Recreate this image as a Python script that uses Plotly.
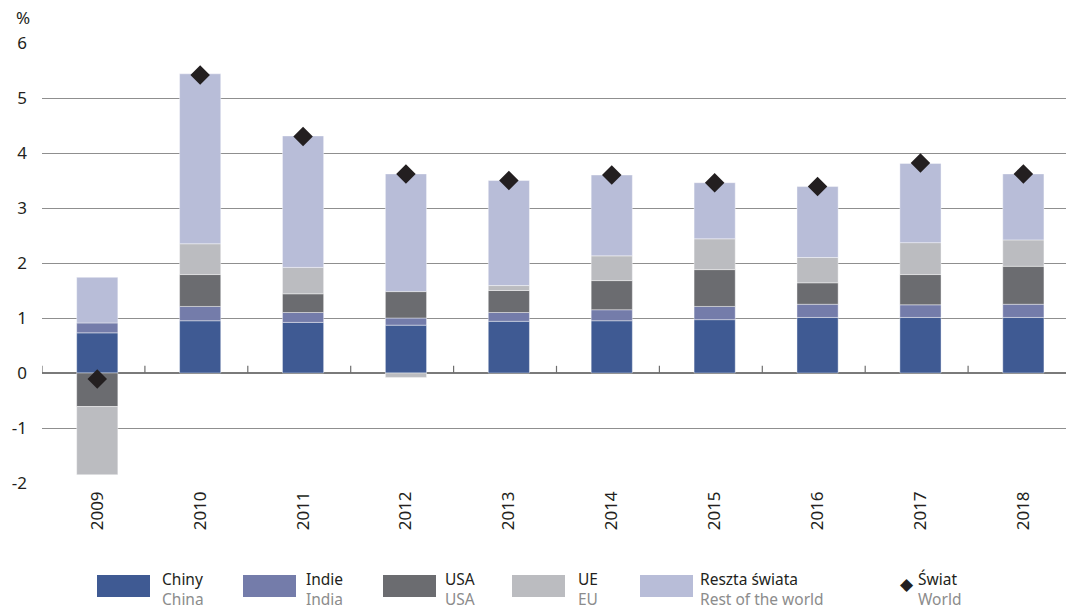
import plotly.graph_objects as go

years = ["2009", "2010", "2011", "2012", "2013", "2014", "2015", "2016", "2017", "2018"]
china = [0.73, 0.95, 0.92, 0.87, 0.94, 0.95, 0.97, 1.01, 1.01, 1.01]
india = [0.18, 0.26, 0.18, 0.13, 0.16, 0.20, 0.24, 0.24, 0.23, 0.24]
usa = [-0.61, 0.58, 0.34, 0.48, 0.40, 0.53, 0.67, 0.39, 0.55, 0.69]
eu = [-1.24, 0.56, 0.48, -0.08, 0.09, 0.45, 0.56, 0.46, 0.58, 0.48]
rest = [0.83, 3.09, 2.39, 2.14, 1.91, 1.47, 1.02, 1.29, 1.44, 1.20]
world = [-0.11, 5.42, 4.30, 3.62, 3.50, 3.60, 3.46, 3.39, 3.82, 3.62]
y_ticks = [-2, -1, 0, 1, 2, 3, 4, 5, 6]
y_labels = ["-2", "-1", "0", "1", "2", "3", "4", "5", "6"]

series = [
    ("Chiny", "China", china, "#3f5a93"),
    ("Indie", "India", india, "#747caa"),
    ("USA", "USA", usa, "#6b6c70"),
    ("UE", "EU", eu, "#bbbcc0"),
    ("Reszta świata", "Rest of the world", rest, "#b8bdd8"),
]

FONT = "Noto Sans"
TXT = "#231f20"
SUB = "#8c8c8c"

fig = go.Figure()
xs = list(range(len(years)))
for pl, en, vals, col in series:
    fig.add_trace(go.Bar(
        x=xs, y=vals, name=pl, marker=dict(color=col, line=dict(color="rgba(255,255,255,0.5)", width=0.8)),
        showlegend=False,
    ))
fig.add_trace(go.Scatter(
    x=xs, y=world, mode="markers", name="Świat",
    marker=dict(symbol="diamond", size=15, color=TXT), showlegend=False,
))

# plot geometry (pixels)
W, H = 1066, 609
L, R, T, B = 42, 0, 43, 126
pw = W - L - R
ph = H - T - B
cat_px = 102.9
x_start = -0.537

def px_x(px):
    return (px - L) / pw

def px_y(py):
    return (H - B - py) / ph

shapes = []
# small tick marks at category boundaries on the zero line
for i in range(len(years)):
    shapes.append(dict(type="line", xref="x", yref="y", x0=i + x_start, x1=i + x_start, y0=0, y1=0.13,
                       line=dict(color="#6f6f6f", width=1.2)))

annotations = [dict(text="%", xref="paper", yref="paper", x=px_x(14), y=px_y(18), xanchor="left",
                    yanchor="middle", showarrow=False, font=dict(family=FONT, size=17, color=TXT))]

# manual legend
leg = [(97, 160), (243, 304), (383, 443), (512, 576), (640, 698)]
for (sx, tx), (pl, en, vals, col) in zip(leg, series):
    shapes.append(dict(type="rect", xref="paper", yref="paper", x0=px_x(sx), x1=px_x(sx + 53),
                       y0=px_y(597), y1=px_y(575), fillcolor=col, line=dict(width=0)))
    annotations.append(dict(text=f"{pl}<br><span style='color:{SUB}'>{en}</span>", xref="paper", yref="paper",
                            x=px_x(tx), y=px_y(566), xanchor="left", yanchor="top", align="left",
                            showarrow=False, font=dict(family=FONT, size=15.5, color=TXT)))
annotations.append(dict(text="◆", xref="paper", yref="paper", x=px_x(907), y=px_y(584), xanchor="center",
                        yanchor="middle", showarrow=False, font=dict(family="DejaVu Sans", size=17, color=TXT)))
annotations.append(dict(text=f"Świat<br><span style='color:{SUB}'>World</span>", xref="paper", yref="paper",
                        x=px_x(916), y=px_y(566), xanchor="left", yanchor="top", align="left",
                        showarrow=False, font=dict(family=FONT, size=15.5, color=TXT)))

fig.update_layout(
    width=W, height=H,
    margin=dict(l=L, r=R, t=T, b=B),
    paper_bgcolor="white", plot_bgcolor="white",
    barmode="relative", bargap=0.6,
    font=dict(family=FONT, size=16, color=TXT),
    shapes=shapes, annotations=annotations,
    xaxis=dict(
        range=[x_start, x_start + pw / cat_px], tickmode="array", tickvals=xs, ticktext=years,
        tickangle=-90, showgrid=False, zeroline=False, showline=False, ticks="",
        tickfont=dict(family=FONT, size=17, color=TXT), ticklabelstandoff=4,
    ),
    yaxis=dict(
        range=[-2, 6], tickmode="array", tickvals=y_ticks, ticktext=y_labels,
        showgrid=True, gridcolor="#8f8f8f", gridwidth=1.2,
        zeroline=True, zerolinecolor="#7a7a7a", zerolinewidth=2, showline=False, ticks="",
        tickfont=dict(family=FONT, size=17, color=TXT), ticklabelstandoff=14,
    ),
)

fig.write_html("out.html", config={"displayModeBar": False},
               post_script="document.body.style.margin='0';")
